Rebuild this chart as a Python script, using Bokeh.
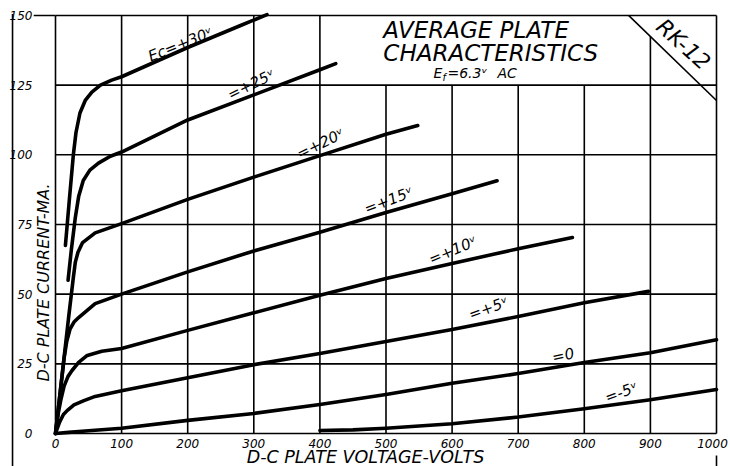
from bokeh.plotting import figure
from bokeh.embed import file_html
from bokeh.resources import INLINE
from bokeh.core.properties import value

# ---------------- data ----------------
x_ticks = [0, 100, 200, 300, 400, 500, 600, 700, 800, 900, 1000]
y_ticks = [0, 25, 50, 75, 100, 125, 150]
x_tick_labels = ["0", "100", "200", "300", "400", "500", "600", "700", "800", "900", "1000"]
y_tick_labels = ["0", "25", "50", "75", "100", "125", "150"]

curve_labels = ["Ec=+30\u1d5b", "=+25\u1d5b", "=+20\u1d5b", "=+15\u1d5b",
                "=+10\u1d5b", "=+5\u1d5b", "=0", "=-5\u1d5b"]

ec_p30_v = [15, 21, 27, 31, 37, 45, 55, 68, 85, 100, 200, 280, 320]
ec_p30_i = [67.5, 84, 100, 108, 115, 119.5, 122.5, 125, 126.8, 128, 138.5, 146.4, 150.3]

ec_p25_v = [19, 24, 30, 35, 42, 52, 65, 83, 100, 200, 300, 400, 424]
ec_p25_i = [55, 66, 77.5, 85, 90.8, 94.5, 97, 99.5, 101, 112.5, 121.5, 130.5, 132.7]

ec_p20_v = [0, 10, 20, 27, 30, 34, 41, 60, 100, 200, 300, 400, 500, 548]
ec_p20_i = [0, 21, 42, 56, 61.5, 65, 68.5, 72, 75.3, 84, 92, 99.7, 107.4, 110.5]

ec_p15_v = [0, 13, 17, 22, 28, 35, 60, 100, 200, 300, 400, 500, 600, 668]
ec_p15_i = [0, 27, 33, 37.5, 40, 41.6, 46.6, 50, 58, 65.5, 72.2, 79.3, 86, 90.7]

ec_p10_v = [0, 4, 8, 13, 19, 25, 35, 48, 70, 100, 200, 300, 400, 500, 600, 700, 782]
ec_p10_i = [0, 7, 12, 17, 20.5, 22.6, 25.5, 28, 29.5, 30.5, 37, 43.3, 49.6, 55.6, 61, 66.3, 70.3]

ec_p5_v = [0, 6, 12, 18, 28, 43, 60, 100, 200, 300, 400, 500, 600, 700, 800, 897]
ec_p5_i = [0, 4, 6.8, 8.3, 10.3, 11.8, 13.3, 15.3, 20, 24.7, 28.7, 33, 37.3, 42, 46.9, 51]

ec_0_v = [0, 20, 50, 100, 200, 300, 400, 500, 600, 700, 800, 900, 1000]
ec_0_i = [0, 0.4, 1, 1.9, 4.7, 7.2, 10.4, 14, 18, 21.5, 25.5, 29, 33.6]

ec_m5_v = [400, 450, 500, 600, 700, 800, 900, 1000]
ec_m5_i = [1.1, 1.3, 1.9, 3.5, 5.9, 8.9, 12.1, 15.8]

curves_v = [ec_p30_v, ec_p25_v, ec_p20_v, ec_p15_v, ec_p10_v, ec_p5_v, ec_0_v, ec_m5_v]
curves_i = [ec_p30_i, ec_p25_i, ec_p20_i, ec_p15_i, ec_p10_i, ec_p5_i, ec_0_i, ec_m5_i]

# ---------------- layout ----------------
W, H = 730, 466
PX_PER_V = 0.661
PX_PER_MA = 2.787
X0 = -55 / PX_PER_V
Y0 = -(466 - 433) / PX_PER_MA
x_range = (X0, X0 + W / PX_PER_V)
y_range = (Y0, Y0 + H / PX_PER_MA)

label_pos_v = [189, 296, 401, 504, 601, 655, 768, 856]
label_pos_i = [139.6, 125.2, 104, 83.6, 65.7, 44.9, 28, 14.7]
label_angle = [22, 26, 26, 21, 23, 20, 12, 20]

x_label_shift = [0, 0, 0, 0, 0, 0, 0, 0, 0, 0, -4]

diag_v = [867, 1000]
diag_i = [150, 119.5]

FONT = value("DejaVu Sans")

p = figure(width=W, height=H, x_range=x_range, y_range=y_range,
           x_axis_type=None, y_axis_type=None, title=None,
           min_border=0, min_border_left=0, min_border_right=0,
           min_border_top=0, min_border_bottom=0,
           output_backend="svg", toolbar_location=None)
p.grid.visible = False
p.outline_line_color = None
p.background_fill_color = "white"
p.border_fill_color = "white"

# grid lines
vx0, vy0, vx1, vy1 = [], [], [], []
for xv in x_ticks:
    if 500 <= xv <= 800:
        top = 125
    elif xv == 900:
        top = diag_i[0] + (xv - diag_v[0]) * (diag_i[1] - diag_i[0]) / (diag_v[1] - diag_v[0])
    else:
        top = y_ticks[-1]
    vx0.append(xv); vx1.append(xv); vy0.append(y_ticks[0]); vy1.append(top)
for yv in y_ticks:
    vx0.append(x_ticks[0]); vx1.append(x_ticks[-1]); vy0.append(yv); vy1.append(yv)
# leader for top label, diagonal of the type box, page edge, small mark below 1000
vx0 += [-33, diag_v[0], -65, 1000]
vx1 += [0, diag_v[1], -65, 1000]
vy0 += [150, diag_i[0], 150.5, -7.9]
vy1 += [150, diag_i[1], Y0, Y0]
p.segment(x0=vx0, y0=vy0, x1=vx1, y1=vy1, line_color="black", line_width=1.6)

# curves
for cv, ci in zip(curves_v, curves_i):
    p.line(cv, ci, line_color="black", line_width=3.6, line_join="round", line_cap="round")

common = dict(text_font=FONT, text_font_style="italic", text_color="black")

# curve labels
p.text(x=label_pos_v, y=label_pos_i, text=curve_labels, angle=label_angle, angle_units="deg",
       text_font_size="15px", text_align="center", text_baseline="middle", **common)

# tick labels
p.text(x=x_ticks, y=[0] * len(x_ticks), text=x_tick_labels, y_offset=10, x_offset=x_label_shift,
       text_font_size="12px", text_align="center", text_baseline="middle", **common)
p.text(x=[0] * len(y_ticks), y=y_ticks, text=y_tick_labels, x_offset=-23,
       text_font_size="12px", text_align="right", text_baseline="middle", **common)

# axis titles
p.text(x=[469], y=[-8.6], text=["D-C PLATE VOLTAGE-VOLTS"], text_font_size="17.5px",
       text_align="center", text_baseline="middle", **common)
p.text(x=[-18.2], y=[54.2], text=["D-C PLATE CURRENT-MA."], angle=90, angle_units="deg",
       text_font_size="16px", text_align="center", text_baseline="middle", **common)

# title block
p.text(x=[496, 496], y=[144.8, 136.5], text=["AVERAGE PLATE", "CHARACTERISTICS"],
       text_font_size="23px", text_align="left", text_baseline="middle", **common)
p.text(x=[572, 593, 668.7], y=[129.2, 129.2, 129.2], text=["E", "=6.3\u1d5b", "AC"],
       text_font_size="14px", text_align="left", text_baseline="middle", **common)
p.text(x=[585.5], y=[127.6], text=["f"], text_font_size="10px",
       text_align="left", text_baseline="middle", **common)
p.text(x=[950], y=[139.6], text=["RK-12"], angle=-42, angle_units="deg",
       text_font_size="22px", text_align="center", text_baseline="middle", **common)

open("out.html", "w").write(file_html(p, INLINE))
